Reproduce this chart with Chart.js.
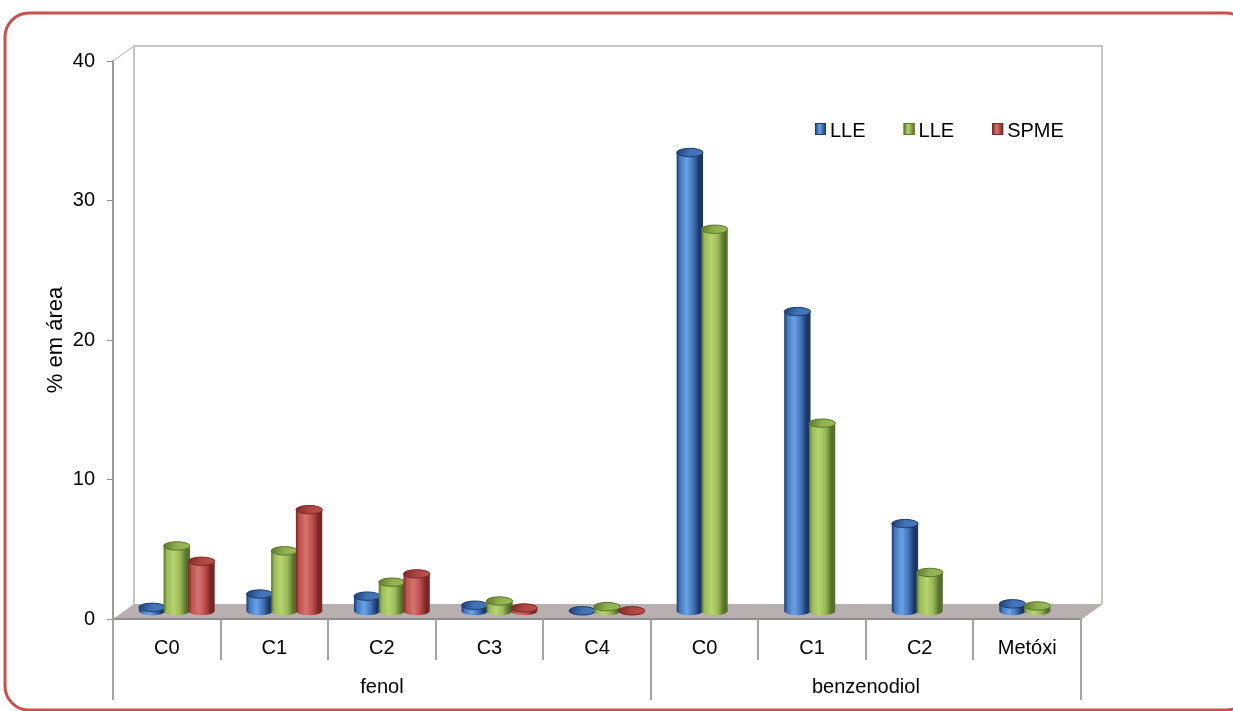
<!DOCTYPE html>
<html>
<head>
<meta charset="utf-8">
<title>% em área — fenol e benzenodiol</title>
<script src="https://cdn.jsdelivr.net/npm/chart.js@4.4.1/dist/chart.umd.min.js"></script>
<style>
  html, body { margin: 0; padding: 0; background: #ffffff; }
  canvas { display: block; }
</style>
</head>
<body>
<canvas id="chart" width="1233" height="711"></canvas>
<script>
// ---- data ----
const categories = ['C0', 'C1', 'C2', 'C3', 'C4', 'C0', 'C1', 'C2', 'Metóxi'];
const groupLabels = ['fenol', 'benzenodiol'];
const groupSizes = [5, 4];
const seriesNames = ['LLE', 'LLE', 'SPME'];
const lleBlue  = [0.3, 1.25, 1.1, 0.45, 0.05, 32.9, 21.5, 6.3, 0.55];
const lleGreen = [4.7, 4.35, 2.1, 0.75, 0.35, 27.4, 13.5, 2.8, 0.4];
const spme     = [3.6, 7.3, 2.7, 0.25, 0.05, null, null, null, null];
const yTicks   = [0, 10, 20, 30, 40];

// ---- look ----
const FONT = '"Liberation Sans", Arial, sans-serif';
const palette = [
  { base: '#4477bb', dark: '#1a366a', light: '#6aa2e8', top: '#4173b6', rim: '#1d3b70' },
  { base: '#9bbb59', dark: '#55702a', light: '#b6d46e', top: '#8fb04f', rim: '#5a7628' },
  { base: '#c0504d', dark: '#7a2523', light: '#d27471', top: '#ad4542', rim: '#7c2826' }
];
// oblique depth of the 3D box (back wall) and of the bar row (mid depth)
const WALL_DX = 21, WALL_DY = -15;
const BAR_DX = 10, BAR_DY = -7.5;

// back wall, floor, cylinders, dividers, legend and outer frame
const boxPlugin = {
  id: 'box3d',
  beforeDatasetsDraw(chart) {
    const { ctx, chartArea: a } = chart;
    ctx.save();
    // floor
    ctx.beginPath();
    ctx.moveTo(a.left, a.bottom);
    ctx.lineTo(a.left + WALL_DX, a.bottom + WALL_DY);
    ctx.lineTo(a.right + WALL_DX, a.bottom + WALL_DY);
    ctx.lineTo(a.right, a.bottom);
    ctx.closePath();
    ctx.fillStyle = '#b8b0b0';
    ctx.fill();
    // back wall edges
    ctx.strokeStyle = '#c4c4c4';
    ctx.lineWidth = 2;
    ctx.beginPath();
    ctx.moveTo(a.left + WALL_DX, a.bottom + WALL_DY);
    ctx.lineTo(a.left + WALL_DX, a.top + WALL_DY);
    ctx.lineTo(a.right + WALL_DX, a.top + WALL_DY);
    ctx.lineTo(a.right + WALL_DX, a.bottom + WALL_DY);
    ctx.stroke();
    ctx.lineWidth = 1.2;
    ctx.beginPath();
    ctx.moveTo(a.left, a.top);
    ctx.lineTo(a.left + WALL_DX, a.top + WALL_DY);
    ctx.stroke();
    // floor front and side edges
    ctx.strokeStyle = '#8e8e8e';
    ctx.lineWidth = 2;
    ctx.beginPath();
    ctx.moveTo(a.left, a.bottom);
    ctx.lineTo(a.right, a.bottom);
    ctx.stroke();
    ctx.strokeStyle = '#b0b0b0';
    ctx.lineWidth = 1.2;
    ctx.beginPath();
    ctx.moveTo(a.right, a.bottom);
    ctx.lineTo(a.right + WALL_DX, a.bottom + WALL_DY);
    ctx.stroke();
    ctx.restore();

    // bars sit half way into the box
    ctx.save();
    ctx.translate(BAR_DX, BAR_DY);
  },
  afterDatasetsDraw(chart) {
    const { ctx } = chart;
    // cylinder shading over each bar element
    chart.data.datasets.forEach((ds, di) => {
      const meta = chart.getDatasetMeta(di);
      const c = palette[di];
      meta.data.forEach((el, i) => {
        if (ds.data[i] === null || ds.data[i] === undefined) return;
        const p = el.getProps(['x', 'y', 'base', 'width'], true);
        const rx = p.width / 2 + 0.8;
        const ry = Math.max(3.5, p.width * 0.17);
        const x = p.x, top = p.y, bot = p.base;
        const g = ctx.createLinearGradient(x - rx, 0, x + rx, 0);
        g.addColorStop(0, c.dark);
        g.addColorStop(0.12, c.base);
        g.addColorStop(0.38, c.light);
        g.addColorStop(0.62, c.base);
        g.addColorStop(0.86, c.dark);
        g.addColorStop(1, c.dark);
        ctx.beginPath();
        ctx.moveTo(x - rx, top);
        ctx.lineTo(x - rx, bot);
        ctx.ellipse(x, bot, rx, ry, 0, Math.PI, 0, true);
        ctx.lineTo(x + rx, top);
        ctx.closePath();
        ctx.fillStyle = g;
        ctx.fill();
        // top cap
        ctx.beginPath();
        ctx.ellipse(x, top, rx, ry, 0, 0, Math.PI * 2);
        const tg = ctx.createLinearGradient(x - rx, top - ry, x + rx, top + ry);
        tg.addColorStop(0, c.rim);
        tg.addColorStop(0.5, c.top);
        tg.addColorStop(1, c.base);
        ctx.fillStyle = tg;
        ctx.fill();
        ctx.strokeStyle = c.rim;
        ctx.lineWidth = 1;
        ctx.stroke();
      });
    });
    ctx.restore();
  },
  afterDraw(chart) {
    const { ctx, chartArea: a } = chart;
    const xs = chart.scales.x;
    const step = xs.getPixelForValue(1) - xs.getPixelForValue(0);
    const edge = i => xs.getPixelForValue(i) - step / 2;
    ctx.save();
    // category and group dividers below the floor
    ctx.strokeStyle = '#a3a3a3';
    ctx.lineWidth = 2;
    const groupEdges = [0];
    groupSizes.forEach(n => groupEdges.push(groupEdges[groupEdges.length - 1] + n));
    for (let i = 0; i <= categories.length; i++) {
      const isGroup = groupEdges.includes(i);
      const xx = Math.round(edge(i));
      ctx.beginPath();
      ctx.moveTo(xx, a.bottom);
      ctx.lineTo(xx, isGroup ? a.bottom + 81 : a.bottom + 41);
      ctx.stroke();
    }
    // group labels
    ctx.fillStyle = '#000';
    ctx.font = '20px ' + FONT;
    ctx.textAlign = 'center';
    ctx.textBaseline = 'alphabetic';
    groupLabels.forEach((g, k) => {
      const cx = (edge(groupEdges[k]) + edge(groupEdges[k + 1])) / 2;
      ctx.fillText(g, cx, a.bottom + 74);
    });

    // legend inside the plot, top right
    let lx = 815;
    const ly = 123;
    ctx.textAlign = 'left';
    chart.data.datasets.forEach((ds, di) => {
      const c = palette[di];
      const g = ctx.createLinearGradient(lx, 0, lx + 11, 0);
      g.addColorStop(0, c.dark);
      g.addColorStop(0.4, c.light);
      g.addColorStop(1, c.dark);
      ctx.fillStyle = g;
      ctx.fillRect(lx, ly, 11, 12);
      ctx.strokeStyle = c.rim;
      ctx.lineWidth = 1;
      ctx.strokeRect(lx + 0.5, ly + 0.5, 10, 11);
      ctx.fillStyle = '#000';
      ctx.fillText(ds.label, lx + 15, ly + 14);
      lx += 15 + ctx.measureText(ds.label).width + 38;
    });

    // rounded frame
    ctx.strokeStyle = '#c9504c';
    ctx.lineWidth = 3;
    ctx.beginPath();
    ctx.roundRect(5, 13, 1245, 697, 24);
    ctx.stroke();
    ctx.restore();
  }
};

const colors = palette.map(p => p.base);
new Chart(document.getElementById('chart'), {
  type: 'bar',
  data: {
    labels: categories,
    datasets: [
      { label: seriesNames[0], data: lleBlue,  backgroundColor: colors[0] },
      { label: seriesNames[1], data: lleGreen, backgroundColor: colors[1] },
      { label: seriesNames[2], data: spme,     backgroundColor: colors[2] }
    ]
  },
  options: {
    responsive: false,
    devicePixelRatio: 1,
    animation: false,
    layout: { padding: { top: 61, right: 152, bottom: 0, left: 0 } },
    datasets: { bar: { categoryPercentage: 0.69, barPercentage: 1.0, borderWidth: 0 } },
    plugins: { legend: { display: false }, tooltip: { enabled: false } },
    scales: {
      x: {
        grid: { display: false, drawTicks: false },
        border: { display: false },
        ticks: { color: '#000', font: { family: FONT, size: 20 }, padding: 17, maxRotation: 0, autoSkip: false },
        afterFit(s) { s.height = 92; }
      },
      y: {
        min: yTicks[0],
        max: yTicks[yTicks.length - 1],
        afterBuildTicks(s) { s.ticks = yTicks.map(v => ({ value: v })); },
        grid: { drawOnChartArea: false, drawTicks: true, tickLength: 6, color: '#8c8c8c' },
        border: { display: true, color: '#9c9c9c', width: 2 },
        ticks: { color: '#000', font: { family: FONT, size: 20 }, padding: 12 },
        title: {
          display: true,
          text: '% em área',
          color: '#000',
          font: { family: FONT, size: 22 },
          padding: { top: 43, bottom: 0 }
        },
        afterFit(s) { s.width = 113; }
      }
    }
  },
  plugins: [boxPlugin]
});
</script>
</body>
</html>
